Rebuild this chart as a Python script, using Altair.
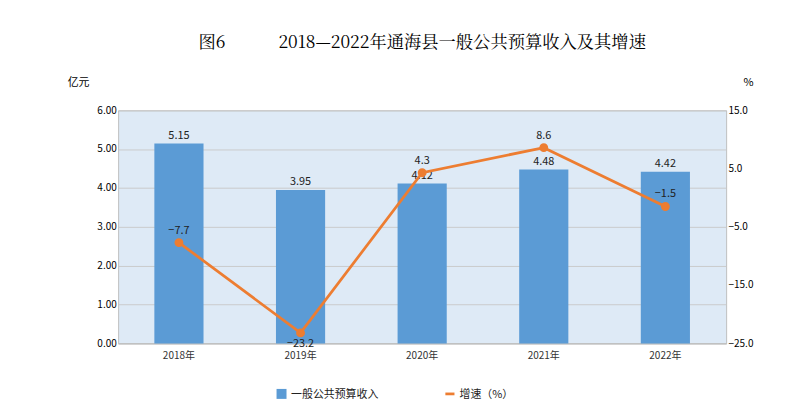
import altair as alt
import pandas as pd

years = ['2018年', '2019年', '2020年', '2021年', '2022年']
revenue = [5.15, 3.95, 4.12, 4.48, 4.42]
growth = [-7.7, -23.2, 4.3, 8.6, -1.5]
label_below = [False, True, False, False, False]

df = pd.DataFrame({'year': years, 'rev': revenue, 'g': growth, 'below': label_below,
                   's1': '一般公共预算收入', 's2': '增速（%）'})

font = 'Noto Sans CJK SC'
base = alt.Chart(df).encode(x=alt.X('year:N', sort=years, title=None,
                                    axis=alt.Axis(labelAngle=0, labelFontSize=11, labelColor='#333',
                                                  ticks=False, domainColor='#bbb', labelPadding=8)))

ysc_l = alt.Scale(domain=[0, 6])
bars = base.mark_bar(size=54, color='#5b9bd5').encode(
    y=alt.Y('rev:Q', scale=ysc_l, title='亿元',
            axis=alt.Axis(values=[0, 1, 2, 3, 4, 5, 6], format='.2f', gridColor='#c8c8c8',
                          domain=False, ticks=False, titleAngle=0, titleX=-44, titleY=-24,
                          titleFontWeight='normal', titleFontSize=12, labelFontSize=11)),
    color=alt.Color('s1:N', scale=alt.Scale(range=['#5b9bd5']), title=None,
                    legend=alt.Legend(orient='none', legendX=173, legendY=305, symbolType='square',
                                      symbolSize=120, labelFontSize=12)))
bar_text = base.mark_text(dy=-9, fontSize=12, color='#222').encode(
    y=alt.Y('rev:Q', scale=ysc_l), text=alt.Text('rev:Q', format='.2f'))

ysc = alt.Scale(domain=[-25, 15])
line = base.mark_line(color='#ed7d31', strokeWidth=3,
                      point=alt.OverlayMarkDef(color='#ed7d31', size=60, filled=True)).encode(
    y=alt.Y('g:Q', scale=ysc, title='%',
            axis=alt.Axis(orient='right', values=list(range(-25, 16, 5)), format='.1f', grid=False,
                          domain=False, ticks=False, titleAngle=0, titleX=24, titleY=-24,
                          titleFontWeight='normal', titleFontSize=12, labelFontSize=11)),
    stroke=alt.Stroke('s2:N', scale=alt.Scale(range=['#ed7d31']), title=None,
                      legend=alt.Legend(orient='none', legendX=358, legendY=305, symbolType='stroke',
                                        symbolStrokeWidth=3, labelFontSize=12)))
g_text = base.transform_calculate(lab="format(datum.g, '.1f')").encode(
    y=alt.Y('g:Q', scale=ysc), text='lab:N')
above = g_text.transform_filter('!datum.below').mark_text(dy=-14, fontSize=12, color='#222')
below = g_text.transform_filter('datum.below').mark_text(dy=12, fontSize=12, color='#222')

left = alt.layer(bars, bar_text)
right = alt.layer(line, above, below)
chart = alt.layer(left, right).resolve_scale(y='independent', color='independent').properties(
    width=668, height=256,
    title=alt.Title('图6\u00a0\u00a0\u00a0\u00a0\u00a0\u00a0\u00a0\u00a0\u00a0\u00a0\u00a0\u00a02018—2022年通海县一般公共预算收入及其增速',
                    fontSize=19, font='Noto Serif CJK SC', fontWeight='normal', offset=28),
    padding={'left': 64, 'top': 8, 'right': 50, 'bottom': 5}
).configure(font=font).configure_view(fill='#deeaf6', stroke='#bbb').configure_legend(
    direction='horizontal', labelColor='#222')

chart.save("out.html", embed_options={"renderer": "svg", "actions": False})
